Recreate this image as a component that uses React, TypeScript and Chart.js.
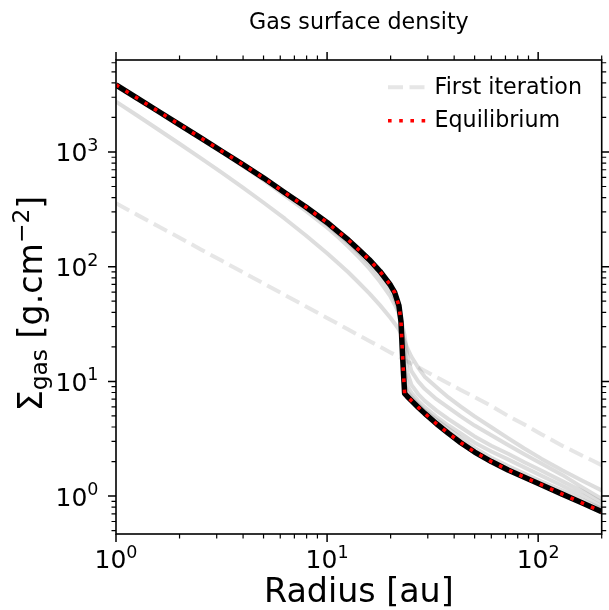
import React, { useEffect, useRef } from "react";
import { Chart, registerables } from "chart.js";

Chart.register(...registerables);

// ---- data ----
const radius = [1, 1.26, 1.585, 2, 2.51, 3.16, 3.98, 5.01, 6.31, 7.94, 10, 11.2, 12.6, 14.1, 15.85, 17.8, 19.95, 20.9, 21.9, 22.4, 22.8, 23.3, 24, 25.1, 27, 29, 33, 37.6, 43, 50, 60, 72, 86, 104, 130, 162, 200];
const firstIteration = [357, 283, 225, 179, 142, 113, 89.7, 71.3, 56.6, 45.0, 35.7, 31.9, 28.3, 25.3, 22.5, 20.1, 17.9, 17.1, 16.3, 15.9, 15.7, 15.3, 14.9, 14.3, 13.3, 12.4, 10.9, 9.6, 8.4, 7.3, 6.1, 5.0, 4.2, 3.45, 2.75, 2.25, 1.86];
const iteration2 = [2748, 2080, 1570, 1180, 889, 664, 492, 361, 262, 187, 131, 109, 89.5, 72.8, 58.5, 46.2, 35.9, 32.0, 28.2, 26.3, 24.5, 22.4, 19.5, 16.4, 13.2, 11.0, 8.91, 7.24, 6.03, 4.95, 3.98, 3.2, 2.6, 2.11, 1.68, 1.36, 1.12];
const iteration3 = [3758, 2884, 2213, 1694, 1303, 998, 757, 568, 417, 307, 220, 183, 150, 122, 96.6, 74.1, 55.0, 46.8, 38.9, 34.7, 30.2, 25.1, 16.6, 12.3, 10.0, 8.61, 7.0, 5.89, 4.95, 4.12, 3.39, 2.79, 2.32, 1.91, 1.53, 1.19, 0.944];
const iteration4 = [3811, 2924, 2244, 1718, 1321, 1012, 773, 586, 434, 322, 234, 195, 162, 133, 107, 84.1, 63.1, 52.5, 40.7, 33.9, 26.3, 19.1, 12.0, 9.33, 7.76, 6.76, 5.56, 4.68, 3.98, 3.31, 2.75, 2.34, 1.97, 1.66, 1.35, 1.10, 0.881];
const iteration5 = [3828, 2938, 2254, 1726, 1327, 1016, 776, 589, 440, 328, 239, 201, 167, 138, 112, 88.5, 66.8, 56.9, 43.2, 32.4, 20.9, 12.6, 9.12, 7.94, 6.76, 5.96, 4.9, 4.12, 3.51, 2.92, 2.45, 2.09, 1.78, 1.5, 1.23, 1.01, 0.813];
const iteration6 = [3837, 2944, 2259, 1730, 1330, 1019, 778, 590, 441, 330, 242, 204, 170, 141, 115, 91.0, 69.0, 59.4, 45.6, 32.4, 17.8, 9.55, 8.13, 7.33, 6.31, 5.56, 4.62, 3.85, 3.2, 2.63, 2.16, 1.83, 1.57, 1.34, 1.12, 0.929, 0.776];
const equilibrium = [3846, 2951, 2265, 1734, 1334, 1021, 780, 592, 442, 331, 243, 204, 171, 141, 115, 91.2, 69.2, 59.6, 45.7, 33.1, 16.2, 7.85, 7.38, 6.79, 5.96, 5.26, 4.27, 3.52, 2.92, 2.42, 2.0, 1.69, 1.46, 1.25, 1.04, 0.869, 0.73];

const xMajorTicks = [1, 10, 100];
const xMajorLabels = ["0", "1", "2"];
const xMinorTicks = [2, 3, 4, 5, 6, 7, 8, 9, 20, 30, 40, 50, 60, 70, 80, 90, 200];
const yMajorTicks = [1, 10, 100, 1000];
const yMajorLabels = ["0", "1", "2", "3"];
const yMinorTicks = [0.5, 0.6, 0.7, 0.8, 0.9, 2, 3, 4, 5, 6, 7, 8, 9, 20, 30, 40, 50, 60, 70, 80, 90, 200, 300, 400, 500, 600, 700, 800, 900, 2000, 3000, 4000, 5000, 6000];

const X_MIN = 1;
const X_MAX = 200;
const Y_MIN = 0.467;
const Y_MAX = 6340;

const titleText = "Gas surface density";
const xLabelText = "Radius [au]";
const legendFirst = "First iteration";
const legendEq = "Equilibrium";

const FONT = '"DejaVu Sans", "Liberation Sans", sans-serif';
const TICK_FS = 25;
const SUP_FS = 17.5;
const LABEL_FS = 33.3;
const LABEL_SMALL_FS = 23.3;
const TITLE_FS = 22.2;
const LEGEND_FS = 22.2;

const GRAY = "rgba(128,128,128,0.27)";
const DASH_GRAY = "rgba(128,128,128,0.2)";

const decorPlugin = {
  id: "decor",
  afterDraw(chart: any) {
    const ctx: CanvasRenderingContext2D = chart.ctx;
    const ca = chart.chartArea;
    const xs = chart.scales.x;
    const ys = chart.scales.y;
    ctx.save();

    // spines
    ctx.strokeStyle = "#000";
    ctx.lineWidth = 1.6;
    ctx.strokeRect(ca.left, ca.top, ca.right - ca.left, ca.bottom - ca.top);

    // ticks
    const MAJ = 8;
    const MIN = 4.5;
    const drawX = (v: number, len: number, w: number) => {
      const px = xs.getPixelForValue(v);
      ctx.lineWidth = w;
      ctx.beginPath();
      ctx.moveTo(px, ca.bottom);
      ctx.lineTo(px, ca.bottom + len);
      ctx.moveTo(px, ca.top);
      ctx.lineTo(px, ca.top - len);
      ctx.stroke();
    };
    const drawY = (v: number, len: number, w: number) => {
      const py = ys.getPixelForValue(v);
      ctx.lineWidth = w;
      ctx.beginPath();
      ctx.moveTo(ca.left, py);
      ctx.lineTo(ca.left - len, py);
      ctx.moveTo(ca.right, py);
      ctx.lineTo(ca.right + len, py);
      ctx.stroke();
    };
    xMajorTicks.forEach((v) => drawX(v, MAJ, 1.5));
    xMinorTicks.forEach((v) => drawX(v, MIN, 1.2));
    yMajorTicks.forEach((v) => drawY(v, MAJ, 1.5));
    yMinorTicks.forEach((v) => drawY(v, MIN, 1.2));

    // tick labels 10^n
    ctx.fillStyle = "#000";
    const drawPow = (exp: string, x: number, baseY: number, align: string) => {
      ctx.textBaseline = "alphabetic";
      ctx.textAlign = "left";
      ctx.font = `${TICK_FS}px ${FONT}`;
      const wb = ctx.measureText("10").width;
      ctx.font = `${SUP_FS}px ${FONT}`;
      const we = ctx.measureText(exp).width;
      const tot = wb + we;
      const x0 = align === "center" ? x - tot / 2 : x - tot;
      ctx.font = `${TICK_FS}px ${FONT}`;
      ctx.fillText("10", x0, baseY);
      ctx.font = `${SUP_FS}px ${FONT}`;
      ctx.fillText(exp, x0 + wb, baseY - 10.5);
    };
    xMajorTicks.forEach((v, i) => {
      drawPow(xMajorLabels[i], xs.getPixelForValue(v), 568, "center");
    });
    yMajorTicks.forEach((v, i) => {
      drawPow(yMajorLabels[i], 98.5, ys.getPixelForValue(v) + 9.5, "right");
    });

    // title
    const cx = (ca.left + ca.right) / 2;
    ctx.textAlign = "center";
    ctx.font = `${TITLE_FS}px ${FONT}`;
    ctx.fillText(titleText, cx, 29);

    // x label
    ctx.font = `${LABEL_FS}px ${FONT}`;
    ctx.fillText(xLabelText, cx, 602);

    // y label (rotated)
    const parts: [string, number, number][] = [
      ["\u03A3", LABEL_FS, 0],
      ["gas", LABEL_SMALL_FS, 5],
      [" [g.cm", LABEL_FS, 0],
      ["\u22122", LABEL_SMALL_FS, -13],
      ["]", LABEL_FS, 0],
    ];
    let total = 0;
    const widths = parts.map(([t, fs]) => {
      ctx.font = `${fs}px ${FONT}`;
      const w = ctx.measureText(t).width;
      total += w;
      return w;
    });
    ctx.save();
    ctx.translate(41.7, 303.5 + total / 2);
    ctx.rotate(-Math.PI / 2);
    ctx.textAlign = "left";
    let cur = 0;
    parts.forEach(([t, fs, dy], i) => {
      ctx.font = `${fs}px ${FONT}`;
      ctx.fillText(t, cur, dy);
      cur += widths[i];
    });
    ctx.restore();

    // legend
    const lx0 = 388;
    const lx1 = 427;
    const ly1 = 87.3;
    const ly2 = 120.7;
    ctx.lineCap = "butt";
    ctx.strokeStyle = DASH_GRAY;
    ctx.lineWidth = 4;
    ctx.setLineDash([15, 6.5]);
    ctx.beginPath();
    ctx.moveTo(lx0, ly1);
    ctx.lineTo(lx1, ly1);
    ctx.stroke();
    ctx.strokeStyle = "#ff0000";
    ctx.lineWidth = 3.6;
    ctx.setLineDash([3.6, 7.6]);
    ctx.beginPath();
    ctx.moveTo(lx0, ly2);
    ctx.lineTo(lx1 + 3, ly2);
    ctx.stroke();
    ctx.setLineDash([]);
    ctx.fillStyle = "#000";
    ctx.font = `${LEGEND_FS}px ${FONT}`;
    ctx.textAlign = "left";
    ctx.textBaseline = "middle";
    ctx.fillText(legendFirst, 434.5, ly1 + 1);
    ctx.fillText(legendEq, 434.5, ly2 + 1);

    ctx.restore();
  },
};

const toPts = (ys: number[]) => radius.map((r, i) => ({ x: r, y: ys[i] }));

export default function App() {
  const ref = useRef<HTMLCanvasElement | null>(null);
  useEffect(() => {
    if (!ref.current) return;
    const grayLine = (ys: number[], label: string) => ({
      label,
      data: toPts(ys),
      borderColor: GRAY,
      borderWidth: 4,
      borderJoinStyle: "round",
      pointRadius: 0,
      tension: 0,
      order: 5,
    });
    const chart = new Chart(ref.current, {
      type: "line",
      data: {
        datasets: [
          {
            label: legendFirst,
            data: toPts(firstIteration),
            borderColor: DASH_GRAY,
            borderWidth: 4,
            borderDash: [15, 6.5],
            pointRadius: 0,
            tension: 0,
            order: 10,
          },
          grayLine(iteration2, "it2"),
          grayLine(iteration3, "it3"),
          grayLine(iteration4, "it4"),
          grayLine(iteration5, "it5"),
          grayLine(iteration6, "it6"),
          {
            label: "eqline",
            data: toPts(equilibrium),
            borderColor: "#000",
            borderWidth: 5.5,
            borderJoinStyle: "round",
            pointRadius: 0,
            tension: 0,
            order: 2,
          },
          {
            label: legendEq,
            data: toPts(equilibrium),
            borderColor: "#ff0000",
            borderWidth: 3.6,
            borderDash: [3.6, 7.6],
            borderCapStyle: "butt",
            pointRadius: 0,
            tension: 0,
            order: 1,
          },
        ] as any,
      },
      options: {
        responsive: false,
        devicePixelRatio: 1,
        animation: false,
        layout: { padding: { left: 0, right: 7.3, top: 60, bottom: 0 } },
        plugins: {
          legend: { display: false },
          title: { display: false },
          tooltip: { enabled: false },
        },
        scales: {
          x: {
            type: "logarithmic",
            min: X_MIN,
            max: X_MAX,
            ticks: { display: false },
            grid: { display: false },
            border: { display: false },
            afterFit: (s: any) => {
              s.height = 76;
            },
          },
          y: {
            type: "logarithmic",
            min: Y_MIN,
            max: Y_MAX,
            ticks: { display: false },
            grid: { display: false },
            border: { display: false },
            afterFit: (s: any) => {
              s.width = 116;
            },
          },
        },
      } as any,
      plugins: [decorPlugin],
    });
    return () => chart.destroy();
  }, []);
  return (
    <div style={{ position: "fixed", left: 0, top: 0, width: 609, height: 610, background: "#fff" }}>
      <canvas ref={ref} width={609} height={610} style={{ display: "block" }} />
    </div>
  );
}
